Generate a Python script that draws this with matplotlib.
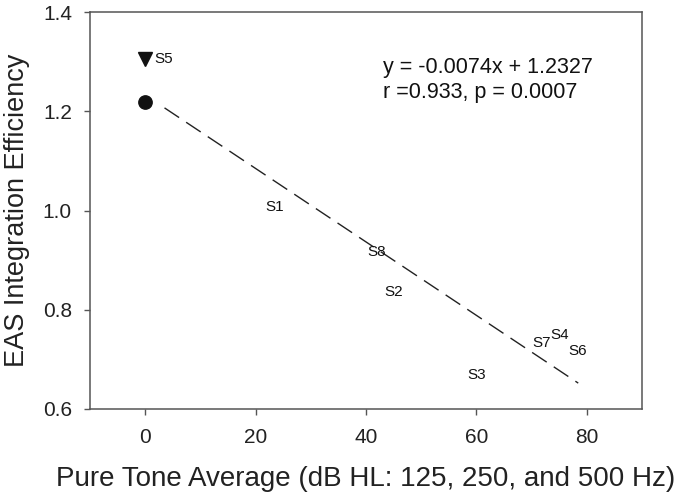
import matplotlib
matplotlib.use("Agg")
import matplotlib.pyplot as plt
import numpy as np

plt.rcParams['font.family'] = ['Liberation Sans', 'DejaVu Sans']

# Subject data (label text drawn as the marker)
subjects = ["S1", "S8", "S2", "S3", "S7", "S4", "S6"]
pta = [23.4, 41.9, 45.1, 60.1, 71.75, 75.1, 78.4]
eff = [1.007, 0.917, 0.836, 0.669, 0.732, 0.749, 0.716]

# Special points
s5_x, s5_y = [0.0], [1.305]
circle_x, circle_y = [0.0], [1.218]

# Regression
slope, intercept = -0.0074, 1.2327
fit_range = [3.5, 78.45]

xticks = [0, 20, 40, 60, 80]
yticks = [0.6, 0.8, 1.0, 1.2, 1.4]

fig = plt.figure(figsize=(6.85, 5.0), dpi=100)
ax = fig.add_axes([90 / 685, 91 / 500, 552 / 685, 397 / 500])

xf = np.array(fit_range)
ax.plot(xf, slope * xf + intercept, color='#222222', lw=1.0, dashes=(12.6, 6.1))

for s, x, y in zip(subjects, pta, eff):
    ax.text(x, y, s, ha='center', va='center', fontsize=11, color='#111111')

ax.plot(s5_x, s5_y, marker='v', color='#111111', ms=10, ls='none')
ax.text(s5_x[0] + 1.6, s5_y[0], "S5", ha='left', va='center', fontsize=11, color='#111111')
ax.plot(circle_x, circle_y, marker='o', color='#111111', ms=9.6, ls='none')

ax.text(0.531, 0.859, "y = -0.0074x + 1.2327", transform=ax.transAxes,
        fontsize=15.5, ha='left', va='center', color='#111111')
ax.text(0.531, 0.798, "r =0.933, p = 0.0007", transform=ax.transAxes,
        fontsize=15.5, ha='left', va='center', color='#111111')

ax.set_xlim(-10, 90)
ax.set_ylim(0.6, 1.4)
ax.set_xticks(xticks)
ax.set_yticks(yticks)
ax.set_yticklabels([f"{v:.1f}" for v in yticks])
ax.tick_params(direction='out', length=4.5, width=1, colors='#555555',
               labelsize=15, labelcolor='#222222')
ax.tick_params(axis='x', pad=9.5)
ax.tick_params(axis='y', pad=8.5)
for sp in ax.spines.values():
    sp.set_color('#555555')
    sp.set_linewidth(1.1)

ax.set_xlabel("Pure Tone Average (dB HL: 125, 250, and 500 Hz)", fontsize=20,
              color='#222222')
ax.set_ylabel("EAS Integration Efficiency", fontsize=19.5, color='#222222')
ax.xaxis.set_label_coords(0.5, -0.1436)
ax.yaxis.set_label_coords(-0.1087, 0.5)

fig.savefig("out.png", dpi=100)
